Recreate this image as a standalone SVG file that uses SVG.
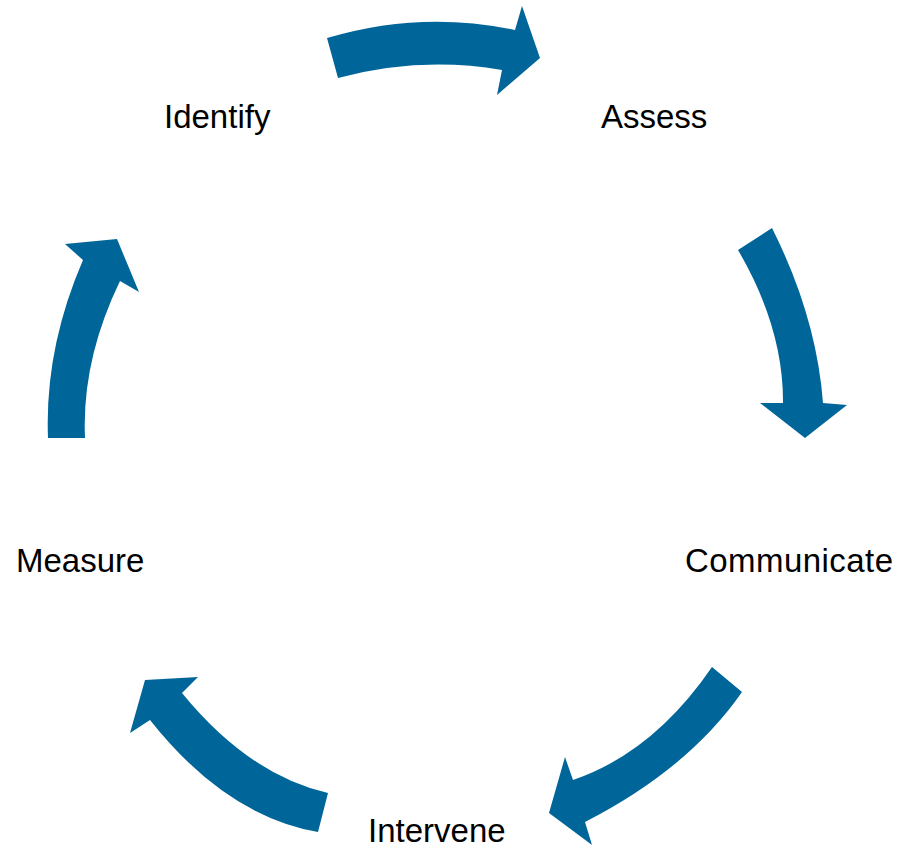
<svg xmlns="http://www.w3.org/2000/svg" width="899" height="850" viewBox="0 0 899 850">
<style>
.arrow{fill:#006699;stroke:none}
.lbl{font-family:"Liberation Sans",Arial,sans-serif;font-size:33px;fill:#000}
</style>
<rect width="899" height="850" fill="#fff"/>
<g id="connectors">
<path id="a-identify-assess" class="arrow" d="M327,38 Q421,10 515,30 L522,6 L540,58 L497,95 L502,70 Q420,56 338,78 Z"/>
<path id="a-assess-communicate" class="arrow" d="M772,228 Q816.5,316.5 823,403 L847,405 L805,438 L760,403 L783,403 Q783.5,327.5 738,250 Z"/>
<path id="a-communicate-intervene" class="arrow" d="M742,692 Q688.5,769 585,822 L592,845 L549,813 L565,757 L573,780 Q653.5,752.5 712,667 Z"/>
<path id="a-intervene-measure" class="arrow" d="M328,793 Q249,775 182,693 L198,677 L145,680 L130,733 L150,720 Q226,816 318,832 Z"/>
<path id="a-measure-identify" class="arrow" d="M48,438 Q44.5,349 83,260 L65,244 L117,239 L139,292 L120,281 Q81.5,360.5 85,438 Z"/>
</g>
<g id="identify"><text class="lbl" x="164" y="128">Identify</text></g>
<g id="assess"><text class="lbl" x="601" y="128">Assess</text></g>
<g id="communicate"><text class="lbl" x="685" y="572" textLength="208" lengthAdjust="spacing">Communicate</text></g>
<g id="intervene"><text class="lbl" x="368" y="842">Intervene</text></g>
<g id="measure"><text class="lbl" x="16" y="572">Measure</text></g>
</svg>
